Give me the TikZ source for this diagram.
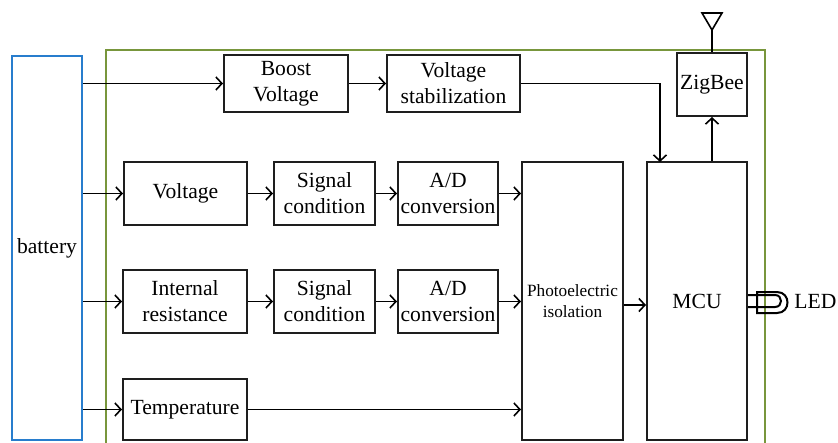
\documentclass[tikz,border=0pt]{standalone}
\usepackage{fontspec}
\setmainfont{Liberation Serif}
\usetikzlibrary{arrows.meta}
\definecolor{battblue}{RGB}{40,125,205}
\definecolor{frameg}{RGB}{120,150,60}
\definecolor{boxk}{RGB}{30,30,30}
\begin{document}
\begin{tikzpicture}[x=0.5pt,y=-0.5pt,
  box/.style={draw=boxk,line width=1pt,inner sep=0pt,align=center,
    font=\fontsize{10.8}{13}\selectfont},
  sz/.style 2 args={minimum width=#1*0.5pt,minimum height=#2*0.5pt},
  smallbox/.style={box,font=\fontsize{8.6}{10.5}\selectfont},
  conn/.style={draw=black,line width=0.8pt,-{Straight Barb[length=3pt,width=6.5pt]}},
  plain/.style={draw=black,line width=0.8pt}]
\useasboundingbox (0,0) rectangle (838,443);
% frame
\draw[frameg,line width=1pt] (106,443) -- (106,50) -- (765,50) -- (765,443);
% battery
\node[box,draw=battblue,sz={70}{384}] (batt) at (47,248) {battery};
% top row
\node[box,sz={124}{57}] (boost) at (286,83.5) {Boost\\Voltage};
\node[box,sz={133}{57}] (stab) at (453.5,83.5) {Voltage\\stabilization};
\node[box,sz={70}{63}] (zig) at (712,84.5) {ZigBee};
% row 1
\node[box,sz={123}{63}] (volt) at (185.5,193.5) {Voltage};
\node[box,sz={101}{63}] (sig1) at (324.5,193.5) {Signal\\condition};
\node[box,sz={100}{63}] (ad1) at (448,193.5) {A/D\\conversion};
% row 2
\node[box,sz={124}{63}] (ires) at (185,301.5) {Internal\\resistance};
\node[box,sz={101}{63}] (sig2) at (324.5,301.5) {Signal\\condition};
\node[box,sz={100}{63}] (ad2) at (448,301.5) {A/D\\conversion};
% row 3
\node[box,sz={124}{61}] (temp) at (185,409.5) {Temperature};
% big blocks
\node[smallbox,sz={101}{278}] (photo) at (572.5,301) {Photoelectric\\isolation};
\node[box,sz={100}{278}] (mcu) at (697,301) {MCU};
\coordinate (mcuin) at (660,162);
% connectors
\draw[conn] (batt.east |- boost.west) -- (boost.west);
\draw[conn] (boost.east) -- (stab.west);
\draw[conn] (stab.east) -| (mcuin);
\draw[conn] (batt.east |- volt.west) -- (volt.west);
\draw[conn] (volt.east) -- (sig1.west);
\draw[conn] (sig1.east) -- (ad1.west);
\draw[conn] (ad1.east) -- (photo.west |- ad1.east);
\draw[conn] (batt.east |- ires.west) -- (ires.west);
\draw[conn] (ires.east) -- (sig2.west);
\draw[conn] (sig2.east) -- (ad2.west);
\draw[conn] (ad2.east) -- (photo.west |- ad2.east);
\draw[conn] (batt.east |- temp.west) -- (temp.west);
\draw[conn] (temp.east) -- (photo.west |- temp.east);
\draw[conn] ([yshift=-2pt]photo.east) -- ([yshift=-2pt]mcu.west |- photo.east);
\draw[conn] (zig.south |- mcu.north) -- (zig.south);
% antenna
\coordinate (ant) at (712,30);
\draw[plain] (zig.north) -- (ant);
\draw[plain,line join=miter] (702,13) -- (722,13) -- (ant) -- cycle;
% LED
\draw[plain,line width=1pt] (757,292) -- (777,292) .. controls (791,292) and (791,313) .. (777,313) -- (757,313) -- cycle;
\draw[plain,line width=1pt] (mcu.east |- 0,295) -- (775,295) .. controls (783,295) and (783,307) .. (775,307) -- (mcu.east |- 0,307);
\node[font=\fontsize{10.8}{13}\selectfont,anchor=west,inner sep=0pt] (led) at (794,301) {LED};
\end{tikzpicture}
\end{document}
